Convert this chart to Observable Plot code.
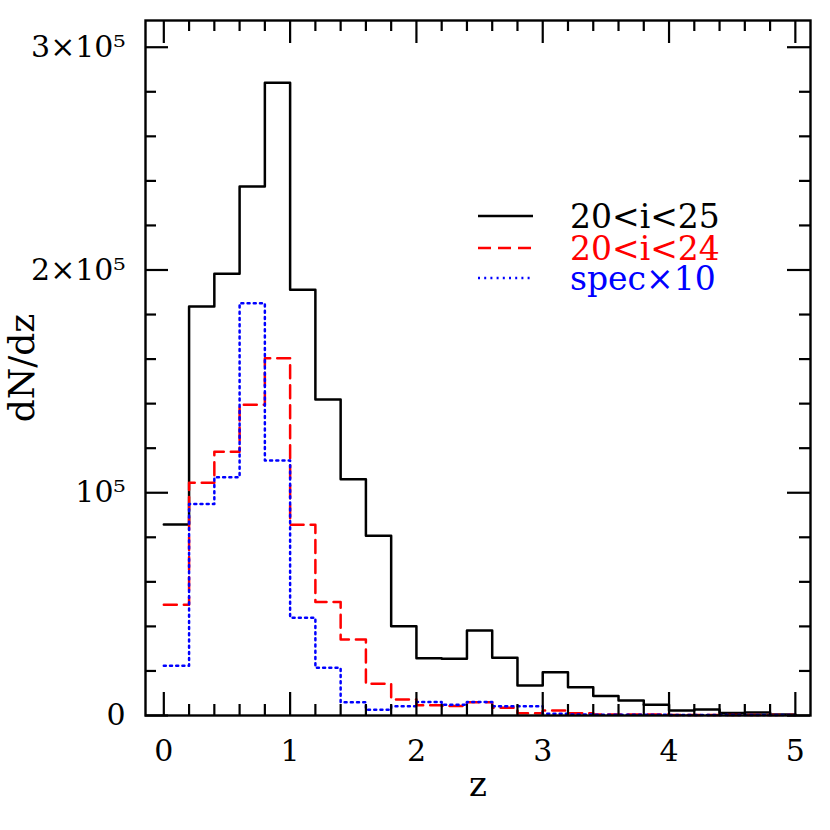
<!DOCTYPE html>
<html>
<head>
<meta charset="utf-8">
<script src="https://cdn.jsdelivr.net/npm/d3@7"></script>
<script src="https://cdn.jsdelivr.net/npm/@observablehq/plot@0.6"></script>
<style>
  html, body { margin: 0; padding: 0; background: white; }
  #chart { position: relative; width: 830px; height: 830px; }
</style>
</head>
<body>
<div id="chart"></div>
<script>
// ---- data (bin left edges, width 0.2 in z) ----
const binEdges = [0, 0.2, 0.4, 0.6, 0.8, 1.0, 1.2, 1.4, 1.6, 1.8, 2.0, 2.2, 2.4, 2.6, 2.8,
                  3.0, 3.2, 3.4, 3.6, 3.8, 4.0, 4.2, 4.4, 4.6, 4.8];
const binEnd = 5.0;

const all25 = [85700, 183600, 198300, 237500, 284000, 191100, 141900, 106100, 80700, 40100,
               25700, 25500, 38200, 25900, 13500, 19400, 12700, 8700, 6700, 4800,
               2200, 2700, 1100, 1300, 500];
const bright24 = [49700, 104500, 118400, 139500, 160400, 85600, 51000, 34100, 14200, 7200,
                  4600, 4300, 5900, 3500, 1000, 2300, 1000, 500, 400, 400,
                  250, 250, 200, 200, 200];
const specX10 = [22300, 94900, 107000, 185100, 114500, 43900, 21400, 6000, 2600, 4200,
                 6100, 4800, 6100, 4200, 4200, 800, 500, 300, 300, 300,
                 200, 200, 200, 200, 200];

const seriesNames = ["20<i<25", "20<i<24", "spec\u00d710"];
const seriesColors = ["#000000", "#ff0000", "#0000ff"];
const seriesDash = [null, "13,7", "2,4.2"];

const xMajorTicks = [0, 1, 2, 3, 4, 5];
const xMinorTicks = [0.2, 0.4, 0.6, 0.8, 1.2, 1.4, 1.6, 1.8, 2.2, 2.4, 2.6, 2.8,
                     3.2, 3.4, 3.6, 3.8, 4.2, 4.4, 4.6, 4.8];
const xTickLabels = ["0", "1", "2", "3", "4", "5"];
const yMajorTicks = [0, 100000, 200000, 300000];
const yMinorTicks = [20000, 40000, 60000, 80000, 120000, 140000, 160000, 180000,
                     220000, 240000, 260000, 280000];
const yTickLabels = ["0", "10\u2075", "2\u00d710\u2075", "3\u00d710\u2075"];

// ---- build step tables ----
function steps(vals) {
  const pts = binEdges.map((x, i) => ({x, y: vals[i]}));
  pts.push({x: binEnd, y: vals[vals.length - 1]});
  return pts;
}
const seriesData = [steps(all25), steps(bright24), steps(specX10)];

const W = 830, H = 830;
const mT = 20, mR = 20, mB = 115, mL = 145;
const fw = W - mL - mR, fh = H - mT - mB;
const majorLen = 23, minorLen = 11;
const FONT = "DejaVu Serif";

const plot = Plot.plot({
  width: W, height: H,
  marginTop: mT, marginRight: mR, marginBottom: mB, marginLeft: mL,
  style: {fontFamily: FONT, background: "white", color: "black"},
  x: {domain: [-0.145, 5.12], axis: null},
  y: {domain: [0, 312000], axis: null},
  marks: [
    // histograms
    ...seriesData.map((d, i) => Plot.line(d, {
      x: "x", y: "y", curve: "step-after",
      stroke: seriesColors[i], strokeWidth: 2.5,
      strokeDasharray: seriesDash[i]
    })),
    // ticks (inward on all four sides)
    Plot.ruleX(xMajorTicks, {x: d => d, insetTop: fh - majorLen, strokeWidth: 2.2}),
    Plot.ruleX(xMinorTicks, {x: d => d, insetTop: fh - minorLen, strokeWidth: 2.2}),
    Plot.ruleX(xMajorTicks, {x: d => d, insetBottom: fh - majorLen, strokeWidth: 2.2}),
    Plot.ruleX(xMinorTicks, {x: d => d, insetBottom: fh - minorLen, strokeWidth: 2.2}),
    Plot.ruleY(yMajorTicks, {y: d => d, insetRight: fw - majorLen, strokeWidth: 2.2}),
    Plot.ruleY(yMinorTicks, {y: d => d, insetRight: fw - minorLen, strokeWidth: 2.2}),
    Plot.ruleY(yMajorTicks, {y: d => d, insetLeft: fw - majorLen, strokeWidth: 2.2}),
    Plot.ruleY(yMinorTicks, {y: d => d, insetLeft: fw - minorLen, strokeWidth: 2.2}),
    Plot.frame({stroke: "black", strokeWidth: 2.4}),
    // tick labels
    Plot.text(xMajorTicks, {x: d => d, text: (d, i) => xTickLabels[i], frameAnchor: "bottom",
      dy: 36, lineAnchor: "middle", fontSize: 30, fill: "black"}),
    Plot.text(yMajorTicks, {y: d => d, text: (d, i) => yTickLabels[i], frameAnchor: "left",
      dx: -20, textAnchor: "end", lineAnchor: "middle", fontSize: 30, fill: "black"}),
    // axis titles
    Plot.text(["z"], {text: d => d, frameAnchor: "bottom", dy: 70, textAnchor: "middle",
      lineAnchor: "middle", fontSize: 34, fill: "black"}),
    Plot.text(["dN/dz"], {text: d => d, frameAnchor: "left", dx: -123, rotate: -90,
      textAnchor: "middle", lineAnchor: "middle", fontSize: 36, fill: "black"})
  ]
});

document.getElementById("chart").appendChild(plot);

// ---- legend (inside plot area, upper right) ----
const svg = d3.select(plot.tagName.toLowerCase() === "svg" ? plot : plot.querySelector("svg"));
const legendRows = [228, 260, 290];
const lg = svg.append("g")
  .attr("font-family", FONT).attr("font-size", 33).attr("text-anchor", "start");
seriesNames.forEach((name, i) => {
  const base = legendRows[i];
  lg.append("line")
    .attr("x1", 478).attr("x2", 533)
    .attr("y1", base - 12).attr("y2", base - 12)
    .attr("stroke", seriesColors[i]).attr("stroke-width", 2.5)
    .attr("stroke-dasharray", seriesDash[i]);
  lg.append("text")
    .attr("x", 570).attr("y", base)
    .attr("text-anchor", "start")
    .attr("fill", seriesColors[i])
    .text(name);
});
</script>
</body>
</html>
